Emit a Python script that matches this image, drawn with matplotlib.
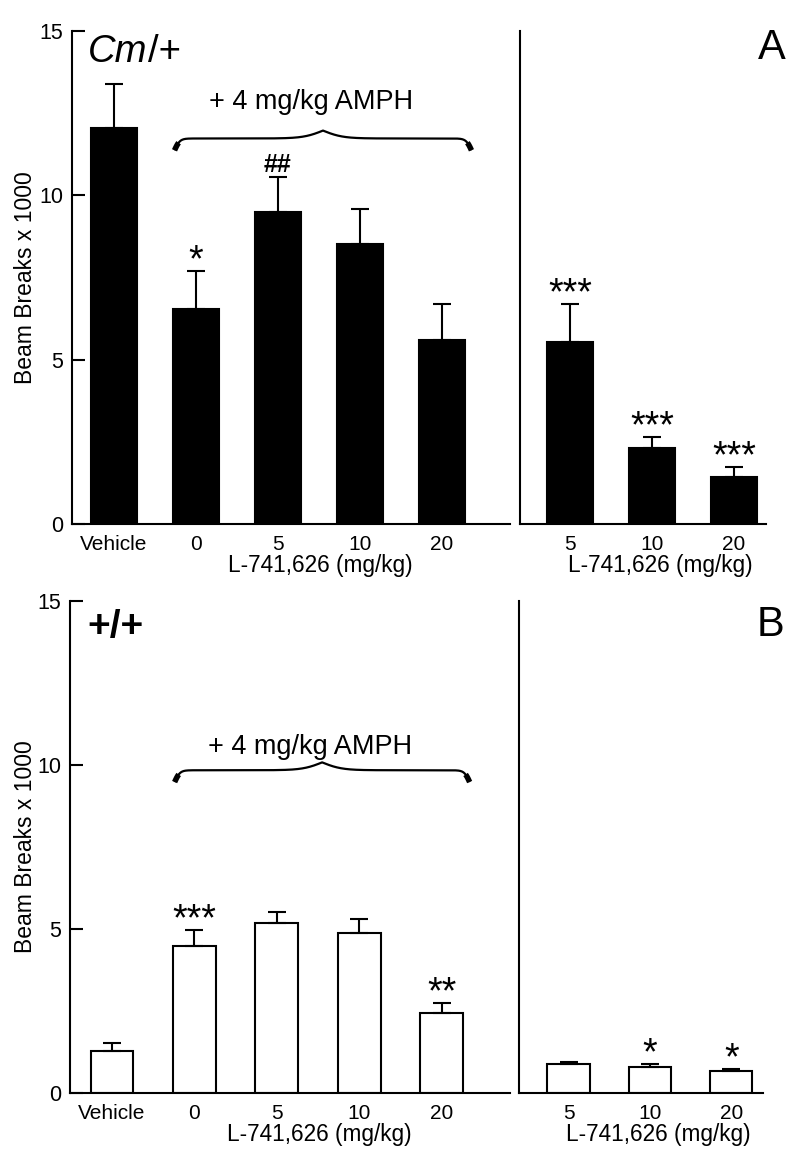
import numpy as np
import matplotlib.pyplot as plt

plt.rcParams['font.family'] = ['Liberation Sans', 'DejaVu Sans']

# data (beam breaks x 1000, mean and SEM)
left_labels = ['Vehicle', '0', '5', '10', '20']
right_labels = ['5', '10', '20']

cm_left_mean = [12.04, 6.53, 9.48, 8.51, 5.60]
cm_left_sem = [1.36, 1.16, 1.07, 1.06, 1.09]
cm_left_sig = ['', '*', '##', '', '']
cm_right_mean = [5.53, 2.31, 1.43]
cm_right_sem = [1.16, 0.33, 0.30]
cm_right_sig = ['***', '***', '***']

wt_left_mean = [1.28, 4.48, 5.18, 4.88, 2.44]
wt_left_sem = [0.24, 0.49, 0.34, 0.42, 0.30]
wt_left_sig = ['', '***', '', '', '**']
wt_right_mean = [0.88, 0.79, 0.67]
wt_right_sem = [0.07, 0.09, 0.06]
wt_right_sig = ['', '*', '*']

W, H = 800, 1164
fig = plt.figure(figsize=(W / 100, H / 100), dpi=100)


def px_axes(x0, y_top, x1, y_bot):
    return fig.add_axes([x0 / W, 1 - y_bot / H, (x1 - x0) / W, (y_bot - y_top) / H])


def curly_brace(ax, x0, x1, y_end, rise, peak):
    t = np.linspace(0, 0.5, 400)
    s1 = 2 / (1 + np.exp(-110 * t)) - 1
    s2 = 2 / (1 + np.exp(-30 * (t - 0.5)))
    half = y_end + rise * s1 + peak * s2
    xs = x0 + (x1 - x0) * np.concatenate([t, 0.5 + t])
    ys = np.concatenate([half, half[::-1]])
    ax.plot(xs, ys, color='black', lw=1.6, solid_capstyle='butt', clip_on=False)
    # heavier tips at both ends
    n = 12
    ax.plot(xs[:n], ys[:n], color='black', lw=4, solid_capstyle='butt', clip_on=False)
    ax.plot(xs[-n:], ys[-n:], color='black', lw=4, solid_capstyle='butt', clip_on=False)


def bars(ax, labels, mean, sem, sig, fill, width):
    x = np.arange(len(labels))
    ax.bar(x, mean, width, color=fill, edgecolor='black', linewidth=1.5,
           yerr=[np.zeros(len(sem)), sem],
           error_kw=dict(capsize=6.5, elinewidth=1.5, capthick=1.5, ecolor='black'))
    for i, s in enumerate(sig):
        if not s:
            continue
        if '*' in s:
            ax.annotate(s, (x[i], mean[i] + sem[i]), xytext=(0, 0), textcoords='offset points',
                        ha='center', va='baseline', fontsize=27, clip_on=False)
        else:
            ax.annotate(s, (x[i], mean[i] + sem[i]), xytext=(0, 4), textcoords='offset points',
                        ha='center', va='baseline', fontsize=18, fontweight='bold', clip_on=False)
    ax.set_xticks(x)
    ax.set_xticklabels(labels)
    ax.set_ylim(0, 15)
    for side in ['top', 'right']:
        ax.spines[side].set_visible(False)
    for side in ['left', 'bottom']:
        ax.spines[side].set_linewidth(1.5)
    ax.tick_params(axis='x', length=0, labelsize=15, pad=8)
    ax.set_xlabel('L-741,626 (mg/kg)', fontsize=16.3)


def panel(ax_l, ax_r, lm, ls, lsig, rm, rs, rsig, fill, width, brace_y, text_y, ylab_x):
    bars(ax_l, left_labels, lm, ls, lsig, fill, width)
    bars(ax_r, right_labels, rm, rs, rsig, fill, width)
    ax_l.set_xlim(-0.51, 4.83)
    ax_r.set_xlim(-0.61, 2.39)
    ax_l.set_yticks([0, 5, 10, 15])
    ax_l.tick_params(axis='y', direction='in', length=9.5, width=1.5, labelsize=15.5, pad=6.5)
    ax_r.set_yticks([])
    ax_l.set_ylabel('Beam Breaks x 1000', fontsize=16.5)
    ax_l.yaxis.set_label_coords(ylab_x, 0.5)
    ax_l.xaxis.set_label_coords(0.566, -0.061)
    ax_r.xaxis.set_label_coords(0.569, -0.061)
    curly_brace(ax_l, 1 - width / 2 + 0.02, 4 + width / 2 + 0.08, brace_y, 0.36, 0.24)
    ax_l.text(2.4, text_y, '+ 4 mg/kg AMPH', fontsize=19.5, ha='center', va='center')


axA_l = px_axes(72, 31, 510, 524)
axA_r = px_axes(520, 31, 766, 524)
axB_l = px_axes(70, 601, 510, 1093)
axB_r = px_axes(519, 601, 763, 1093)

panel(axA_l, axA_r, cm_left_mean, cm_left_sem, cm_left_sig,
      cm_right_mean, cm_right_sem, cm_right_sig, 'black', 0.56, 11.37, 12.83, -0.079)
panel(axB_l, axB_r, wt_left_mean, wt_left_sem, wt_left_sig,
      wt_right_mean, wt_right_sem, wt_right_sig, 'white', 0.52, 9.48, 10.55, -0.074)

t1 = axA_l.text(0.037, 14.35, 'Cm', style='italic', fontsize=27.5, va='center',
                transform=axA_l.get_yaxis_transform())
axA_l.annotate('/+', xy=(1, 0), xycoords=t1, va='bottom', ha='left', fontsize=27.5)
axB_l.text(0.04, 14.2, '+/+', fontweight='bold', fontsize=28, va='center',
           transform=axB_l.get_yaxis_transform())

fig.text(772 / W, 1 - 48 / H, 'A', fontsize=30, ha='center', va='center')
fig.text(770 / W, 1 - 625 / H, 'B', fontsize=30, ha='center', va='center')

fig.savefig('out.png', dpi=100)
